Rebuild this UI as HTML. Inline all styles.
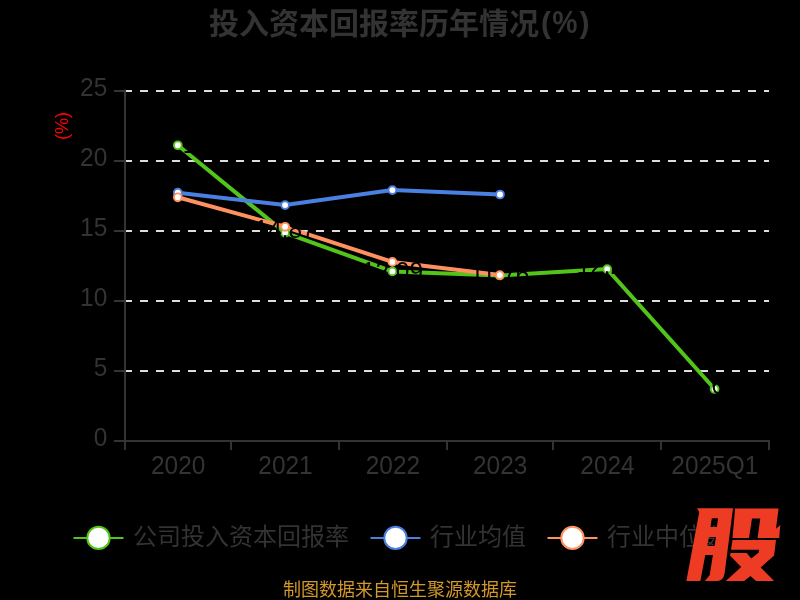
<!DOCTYPE html>
<html lang="zh"><head><meta charset="utf-8"><title>chart</title>
<style>
html,body{margin:0;padding:0;background:#000;}
body{width:800px;height:600px;overflow:hidden;font-family:"Liberation Sans","Noto Sans CJK SC",sans-serif;}
svg{display:block;will-change:transform;}
svg text{font-family:"Liberation Sans","Noto Sans CJK SC",sans-serif;}
</style></head>
<body>
<svg width="800" height="600" viewBox="0 0 800 600">
<rect width="800" height="600" fill="#000"/>
<g id="title" fill="#333333" aria-label="投入资本回报率历年情况(%)"><text x="209" y="34" font-size="30" font-weight="bold" fill="#333333">投入资本回报率历年情况</text><text x="541" y="33.2" font-size="30" font-weight="bold">(</text><text x="579.5" y="33.2" font-size="30" font-weight="bold">)</text><text transform="translate(564.9,33.2) scale(0.93,1)" text-anchor="middle" font-size="30.5" font-weight="bold">%</text></g>
<g id="grid" stroke="#dddddd" stroke-width="2" stroke-dasharray="8 8" fill="none"><line x1="124" x2="769" y1="91" y2="91"/><line x1="124" x2="769" y1="161" y2="161"/><line x1="124" x2="769" y1="231" y2="231"/><line x1="124" x2="769" y1="301" y2="301"/><line x1="124" x2="769" y1="371" y2="371"/></g>
<g id="axes" stroke="#333333" stroke-width="2" fill="none"><line x1="125" x2="125" y1="89.5" y2="442"/><line x1="124" x2="770" y1="441" y2="441"/><line x1="114" x2="125" y1="91" y2="91"/><line x1="114" x2="125" y1="161" y2="161"/><line x1="114" x2="125" y1="231" y2="231"/><line x1="114" x2="125" y1="301" y2="301"/><line x1="114" x2="125" y1="371" y2="371"/><line x1="114" x2="125" y1="441" y2="441"/><line x1="125" x2="125" y1="441" y2="450"/><line x1="231" x2="231" y1="441" y2="450"/><line x1="339" x2="339" y1="441" y2="450"/><line x1="447" x2="447" y1="441" y2="450"/><line x1="553" x2="553" y1="441" y2="450"/><line x1="661" x2="661" y1="441" y2="450"/><line x1="769" x2="769" y1="441" y2="450"/></g>
<g id="labels" fill="#333333" font-size="26"><text transform="translate(107.3,96) scale(0.94,1)" text-anchor="end">25</text><text transform="translate(107.3,166) scale(0.94,1)" text-anchor="end">20</text><text transform="translate(107.3,236) scale(0.94,1)" text-anchor="end">15</text><text transform="translate(107.3,306) scale(0.94,1)" text-anchor="end">10</text><text transform="translate(107.3,376) scale(0.94,1)" text-anchor="end">5</text><text transform="translate(107.3,446) scale(0.94,1)" text-anchor="end">0</text><text transform="translate(178.2,474) scale(0.94,1)" text-anchor="middle">2020</text><text transform="translate(285.5,474) scale(0.94,1)" text-anchor="middle">2021</text><text transform="translate(392.9,474) scale(0.94,1)" text-anchor="middle">2022</text><text transform="translate(500.2,474) scale(0.94,1)" text-anchor="middle">2023</text><text transform="translate(607.5,474) scale(0.94,1)" text-anchor="middle">2024</text><text transform="translate(714.8,474) scale(0.94,1)" text-anchor="middle">2025Q1</text></g>
<text id="yname" transform="translate(68.2,126) rotate(-90) scale(0.98,1)" text-anchor="middle" fill="#ff0000" font-size="18.5">(%)</text>
<polyline id="l1" points="177.79999999999998,145.25 285.1,232.8 392.40000000000003,271.4 499.8,275.6 607.2,269.1 714.6,389.0" fill="none" stroke="#52c41a" stroke-width="4" stroke-linejoin="bevel"/><polyline id="l2" points="177.79999999999998,192.7 285.1,205.1 392.40000000000003,190.1 500.0,194.5" fill="none" stroke="#4a80e0" stroke-width="4" stroke-linejoin="bevel"/><polyline id="l3" points="177.79999999999998,197.3 285.1,226.8 392.40000000000003,261.9 499.8,275.1" fill="none" stroke="#ff9160" stroke-width="4" stroke-linejoin="bevel"/>
<g id="m1" fill="#fff" stroke="#52c41a" stroke-width="1.9"><circle cx="177.79999999999998" cy="145.25" r="3.9"/><circle cx="285.1" cy="232.8" r="3.9"/><circle cx="392.40000000000003" cy="271.4" r="3.9"/><circle cx="499.8" cy="275.6" r="3.9"/><circle cx="607.2" cy="269.1" r="3.9"/><circle cx="714.6" cy="389.0" r="3.9"/></g>
<g id="datalabels" fill="#000" font-size="26"><text transform="translate(179.3,152.50) scale(0.94,1)" text-anchor="middle">21.15</text><text transform="translate(285.1,238.05) scale(0.94,1)" text-anchor="middle">14.87</text><text transform="translate(392.4,279.65) scale(0.94,1)" text-anchor="middle">12.09</text><text transform="translate(499.8,282.85) scale(0.94,1)" text-anchor="middle">11.76</text><text transform="translate(607.2,274.35) scale(0.94,1)" text-anchor="middle">12.28</text><text transform="translate(714.6,394.25) scale(0.94,1)" text-anchor="middle">3.69</text></g>
<g id="m2" fill="#fff" stroke="#4a80e0" stroke-width="1.9"><circle cx="177.79999999999998" cy="192.7" r="3.9"/><circle cx="285.1" cy="205.1" r="3.9"/><circle cx="392.40000000000003" cy="190.1" r="3.9"/><circle cx="500.0" cy="194.5" r="3.9"/></g>
<g id="m3" fill="#fff" stroke="#ff9160" stroke-width="1.9"><circle cx="177.79999999999998" cy="197.3" r="3.9"/><circle cx="285.1" cy="226.8" r="3.9"/><circle cx="392.40000000000003" cy="261.9" r="3.9"/><circle cx="499.8" cy="275.1" r="3.9"/></g>
<g id="legend"><g aria-label="公司投入资本回报率"><text x="133.0" y="545" font-size="24" fill="#333333">公司投入资本回报率</text><line x1="73.5" x2="123.5" y1="538" y2="538" stroke="#52c41a" stroke-width="2"/><circle cx="98.5" cy="537.9" r="11.2" fill="#fff" stroke="#52c41a" stroke-width="2"/></g><g aria-label="行业均值"><text x="430.0" y="545" font-size="24" fill="#333333">行业均值</text><line x1="370.5" x2="420.5" y1="538" y2="538" stroke="#4a80e0" stroke-width="2"/><circle cx="395.5" cy="537.9" r="11.2" fill="#fff" stroke="#4a80e0" stroke-width="2"/></g><g aria-label="行业中位数"><text x="607.0" y="545" font-size="24" fill="#333333">行业中位数</text><line x1="547.5" x2="597.5" y1="538" y2="538" stroke="#ff9160" stroke-width="2"/><circle cx="572.5" cy="537.9" r="11.2" fill="#fff" stroke="#ff9160" stroke-width="2"/></g></g>
<g id="footer" aria-label="制图数据来自恒生聚源数据库"><text x="283" y="596" font-size="18" fill="#d3982a">制图数据来自恒生聚源数据库</text></g>
<g id="logo" fill="#ed3b24" aria-label="股"><text x="690" y="575" font-size="70" font-weight="bold" fill="none">股</text><path fill-rule="evenodd" d="M697,508.2 L733,508.2 L724.6,573.5 Q723.5,580.9 717,580.9 L704.9,580.9 L709.75,575 L712.9,555.1 L705.25,555.1 L700.4,580.9 L686.35,580.9 L699.25,512.1 Z M711.85,518.35 L718,518.35 L716.9,526.9 L710.35,526.9 Z M708.85,537.1 L715.9,537.1 L714.6,545.9 L707.1,545.9 Z"/><path d="M735.1,508.4 L778.6,508.4 L776,528.7 L780.3,525 L779.2,538 L757.6,538 L760.25,518.5 L752,518.5 L749,538 L732.5,538 Z"/><path d="M732.5,540 L776,540 L774.1,555.4 L760.6,567.4 L774.1,580.9 L756.1,580.9 L750.5,576 L744.1,580.9 L725.8,580.9 L741.2,567.1 L729.9,555.4 L730.6,553.1 L746.75,553.1 L751.25,558.4 L758.75,552.4 L759.1,549.75 L731,549.75 Z"/></g>
</svg>
</body></html>
